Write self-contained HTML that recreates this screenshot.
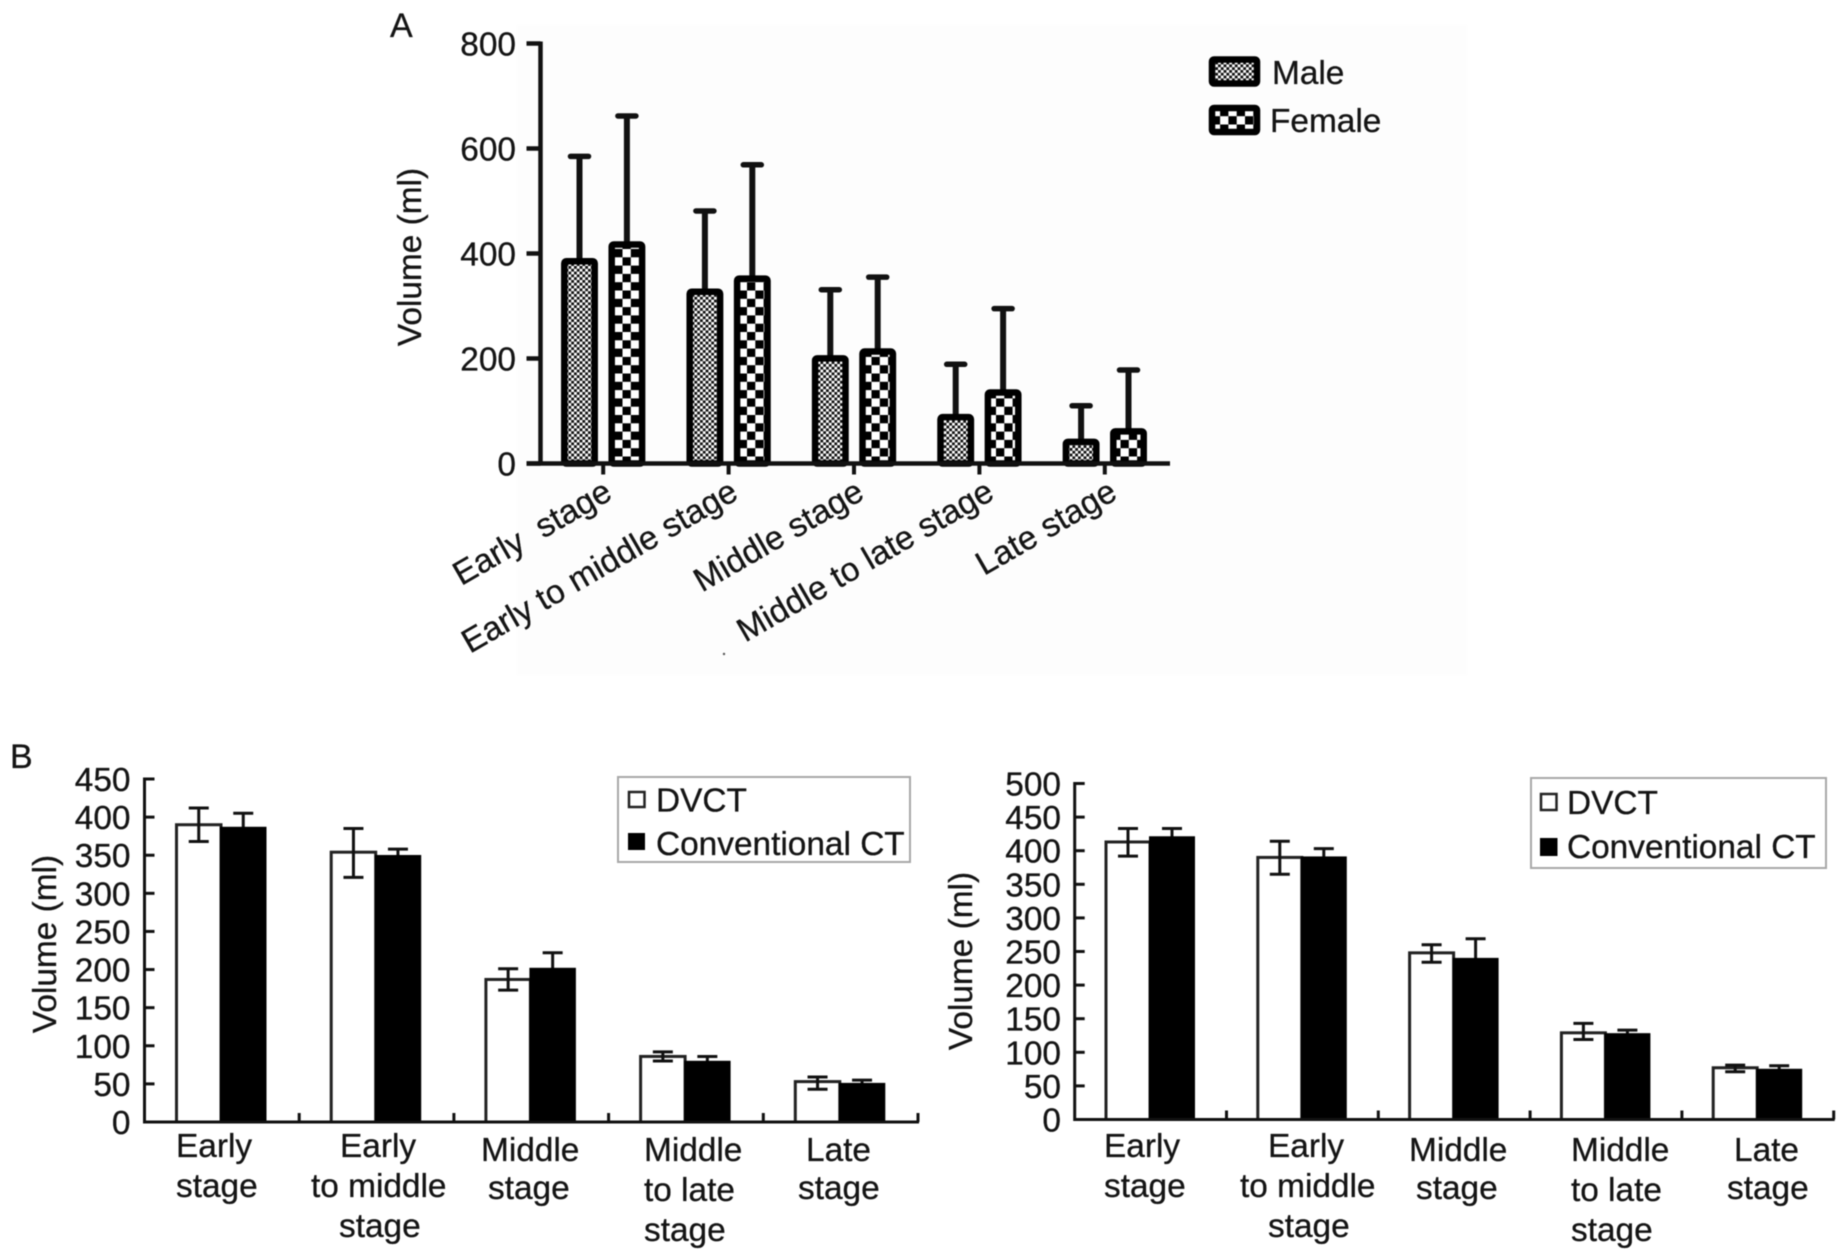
<!DOCTYPE html>
<html lang="en">
<head>
<meta charset="utf-8">
<title>Volume by stage</title>
<style>
html,body{margin:0;padding:0;background:#fff;width:1847px;height:1256px;overflow:hidden}
svg{display:block;filter:blur(0.6px)}
text{font-family:"Liberation Sans",sans-serif;fill:#141414;stroke:#141414;stroke-width:0.3px;font-size:33.4px}
</style>
</head>
<body>
<svg id="figure" xmlns="http://www.w3.org/2000/svg" width="1847" height="1256" viewBox="0 0 1847 1256">
  <defs>
    <pattern id="male-fill" patternUnits="userSpaceOnUse" width="5.6" height="5.6">
      <rect width="5.6" height="5.6" fill="#fff"/>
      <rect width="2.8" height="2.8" fill="#111"/>
      <rect x="2.8" y="2.8" width="2.8" height="2.8" fill="#111"/>
    </pattern>
    <pattern id="female-fill" patternUnits="userSpaceOnUse" width="16.6" height="16.6">
      <rect width="16.6" height="16.6" fill="#fff"/>
      <rect width="8.3" height="8.3" fill="#000"/>
      <rect x="8.3" y="8.3" width="8.3" height="8.3" fill="#000"/>
    </pattern>
  </defs>
  <rect x="517" y="25" width="950" height="650" fill="#fdfdfd"/>
  <circle cx="724" cy="654" r="1.2" fill="#555"/>

  <text x="390" y="37" style="font-size:34px">A</text>
  <text x="10" y="768" style="font-size:34px">B</text>

  <text text-anchor="middle" transform="translate(421,257) rotate(-90)">Volume (ml)</text>
  <text text-anchor="middle" transform="translate(56,944) rotate(-90)">Volume (ml)</text>
  <text text-anchor="middle" transform="translate(972,961) rotate(-90)">Volume (ml)</text>

  <g text-anchor="end">
    <text xml:space="preserve" transform="translate(614,498) rotate(-30)">Early  stage</text>
    <text transform="translate(740,498) rotate(-30)">Early to middle stage</text>
    <text transform="translate(866,498) rotate(-30)">Middle stage</text>
    <text transform="translate(996,498) rotate(-30)">Middle to late stage</text>
    <text transform="translate(1119,498) rotate(-30)">Late stage</text>
  </g>

  <g>
    <rect x="1212" y="59.5" width="45" height="24" rx="2" fill="url(#male-fill)" stroke="#000" stroke-width="6.5"/>
    <text x="1272" y="84">Male</text>
    <rect x="1212" y="108" width="45" height="24" rx="2" fill="url(#female-fill)" stroke="#000" stroke-width="6.5"/>
    <text x="1270" y="132">Female</text>
  </g>

  <g>
    <text x="176" y="1157">Early</text>
    <text x="176" y="1197">stage</text>
    <text x="340" y="1157">Early</text>
    <text x="311" y="1197">to middle</text>
    <text x="339" y="1237">stage</text>
    <text x="481" y="1161">Middle</text>
    <text x="488" y="1199">stage</text>
    <text x="644" y="1161">Middle</text>
    <text x="644" y="1201">to late</text>
    <text x="644" y="1241">stage</text>
    <text x="806" y="1161">Late</text>
    <text x="798" y="1199">stage</text>
  </g>

  <g>
    <text x="1104" y="1157">Early</text>
    <text x="1104" y="1197">stage</text>
    <text x="1268" y="1157">Early</text>
    <text x="1240" y="1197">to middle</text>
    <text x="1268" y="1237">stage</text>
    <text x="1409" y="1161">Middle</text>
    <text x="1416" y="1199">stage</text>
    <text x="1571" y="1161">Middle</text>
    <text x="1571" y="1201">to late</text>
    <text x="1571" y="1241">stage</text>
    <text x="1734" y="1161">Late</text>
    <text x="1727" y="1199">stage</text>
  </g>

  <g>
    <rect x="618" y="777" width="292" height="85" fill="#fff" stroke="#a8a8a8" stroke-width="2"/>
    <rect x="629" y="792" width="15.5" height="15" fill="#fff" stroke="#222" stroke-width="2.5"/>
    <text x="656" y="811.5">DVCT</text>
    <rect x="628" y="833" width="17" height="17" fill="#000"/>
    <text x="656" y="855">Conventional CT</text>
  </g>

  <g>
    <rect x="1531" y="778" width="295" height="90" fill="#fff" stroke="#a8a8a8" stroke-width="2"/>
    <rect x="1541" y="794" width="15.5" height="16" fill="#fff" stroke="#222" stroke-width="2.5"/>
    <text x="1567" y="814">DVCT</text>
    <rect x="1540" y="838" width="17.5" height="18" fill="#000"/>
    <text x="1567" y="858">Conventional CT</text>
  </g>
</svg>
<script>
const categories = ['early', 'early-to-middle', 'middle', 'middle-to-late', 'late'];

const panelATicks = [0, 200, 400, 600, 800];
const maleMeans = [390, 332, 205, 93, 46];
const maleUpper = [585, 481, 331, 189, 110];
const femaleMeans = [422, 357, 218, 140, 66];
const femaleUpper = [662, 569, 355, 295, 178];

const leftTicks = [0, 50, 100, 150, 200, 250, 300, 350, 400, 450];
const leftDvctMeans = [390, 354, 187, 86, 53];
const leftDvctUpper = [412, 385, 201, 92, 59];
const leftDvctLower = [368, 321, 173, 80, 43];
const leftConvMeans = [386, 349, 201, 79, 50];
const leftConvUpper = [405, 358, 222, 86, 55];

const rightTicks = [0, 50, 100, 150, 200, 250, 300, 350, 400, 450, 500];
const rightDvctMeans = [413, 390, 248, 129, 77];
const rightDvctUpper = [433, 414, 260, 143, 81];
const rightDvctLower = [392, 365, 234, 119, 71];
const rightConvMeans = [420, 390, 239, 127, 74];
const rightConvUpper = [433, 403, 269, 133, 80];

const NS = 'http://www.w3.org/2000/svg';
const figure = document.getElementById('figure');

function make(parent, tag, attrs) {
  const el = document.createElementNS(NS, tag);
  for (const key in attrs) el.setAttribute(key, attrs[key]);
  parent.appendChild(el);
  return el;
}

function scaleLinear(d0, d1, r0, r1) {
  return function (v) { return r0 + (v - d0) * (r1 - r0) / (d1 - d0); };
}

function group(name) {
  const g = make(figure, 'g', {});
  
  
  return g;
}

function line(parent, x1, y1, x2, y2, width, name, cap) {
  const el = make(parent, 'line', { x1: x1, y1: y1, x2: x2, y2: y2, stroke: '#111', 'stroke-width': width, 'stroke-linecap': cap || 'butt' });
  
  
  return el;
}

function tickLabels(parent, ticks, y, x) {
  ticks.forEach(function (t) {
    const label = make(parent, 'text', { x: x, y: y(t) + 12, 'text-anchor': 'end' });
    label.textContent = String(t);
    
    
  });
}

/* Panel A */
(function () {
  const g = group('panel-a-chart');
  const axisX = 540.5, axisRight = 1170, step = 125.4;
  const y = scaleLinear(0, 800, 463.5, 43.5);
  const cx = function (i) { return axisX + step * (i + 0.5); };

  function drawSeries(means, upper, offset, fill, name) {
    means.forEach(function (m, i) {
      const x = cx(i) + offset;
      line(g, x, y(m), x, y(upper[i]), 6, 'error-bar-' + name);
      line(g, x - 9, y(upper[i]), x + 9, y(upper[i]), 5.5, 'error-cap-' + name, 'round');
      const bar = make(g, 'rect', { x: x - 15.2, y: y(m) + 2.5, width: 30.4, height: y(0) - y(m) - 2.5, rx: 2, fill: fill, stroke: '#000', 'stroke-width': 6.5 });
      
      
    });
  }
  drawSeries(maleMeans, maleUpper, -23.7, 'url(#male-fill)', 'male');
  drawSeries(femaleMeans, femaleUpper, 23.7, 'url(#female-fill)', 'female');

  line(g, axisX, y(800) - 2, axisX, y(0) + 2, 4.5, 'y-axis-line');
  line(g, axisX - 14, y(0), axisRight, y(0), 4.5, 'x-axis-line');
  panelATicks.forEach(function (t) {
    line(g, axisX - 14, y(t), axisX, y(t), 4.5, 'y-tick');
  });
  categories.forEach(function (c, i) {
    line(g, cx(i), y(0), cx(i), y(0) + 11, 4, 'x-tick');
  });
  tickLabels(g, panelATicks, y, 516);
})();

/* Panel B shared drawing */
function drawPanelB(g, opts) {
  const y = scaleLinear(0, opts.max, opts.y0, opts.yTop);
  const bandStart = function (i) { return opts.axisX + opts.step * i; };
  const w = opts.barWidth, off = opts.barOffset;

  opts.conv.forEach(function (m, i) {
    const x = bandStart(i) + off + w;
    const center = x + w / 2;
    line(g, center, y(m), center, y(opts.convUp[i]), 3, 'error-bar-conventional-ct');
    line(g, center - 10, y(opts.convUp[i]), center + 10, y(opts.convUp[i]), 3, 'error-cap-conventional-ct');
  });
  opts.dvct.forEach(function (m, i) {
    const x = bandStart(i) + off;
    const bar = make(g, 'rect', { x: x, y: y(m), width: w, height: y(0) - y(m), fill: '#fff', stroke: '#222', 'stroke-width': 3 });
    
    
    const center = x + w / 2;
    line(g, center, y(opts.dvctLow[i]), center, y(opts.dvctUp[i]), 3, 'error-bar-dvct');
    line(g, center - 10, y(opts.dvctUp[i]), center + 10, y(opts.dvctUp[i]), 3, 'error-cap-dvct');
    line(g, center - 10, y(opts.dvctLow[i]), center + 10, y(opts.dvctLow[i]), 3, 'error-cap-dvct');
  });
  opts.conv.forEach(function (m, i) {
    const x = bandStart(i) + off + w;
    const bar = make(g, 'rect', { x: x, y: y(m), width: w, height: y(0) - y(m), fill: '#000', stroke: '#000', 'stroke-width': 2 });
    
    
  });

  line(g, opts.axisX, y(opts.max) - 1.5, opts.axisX, y(0) + 1.5, 3, 'y-axis-line');
  line(g, opts.axisX - 1, y(0), bandStart(categories.length) + 1, y(0), 3, 'x-axis-line');
  opts.ticks.forEach(function (t) {
    line(g, opts.axisX, y(t), opts.axisX + 10, y(t), 3, 'y-tick');
  });
  categories.forEach(function (c, i) {
    line(g, bandStart(i + 1), y(0), bandStart(i + 1), y(0) - 9, 3, 'x-tick');
  });
  tickLabels(g, opts.ticks, y, opts.labelX);
}

drawPanelB(group('panel-b-left-chart'), {
  axisX: 144.5, step: 154.7, y0: 1122, yTop: 779, max: 450,
  barOffset: 32, barWidth: 44.5, labelX: 130.5, ticks: leftTicks,
  dvct: leftDvctMeans, dvctUp: leftDvctUpper, dvctLow: leftDvctLower,
  conv: leftConvMeans, convUp: leftConvUpper
});

drawPanelB(group('panel-b-right-chart'), {
  axisX: 1074.7, step: 151.8, y0: 1119.5, yTop: 783.5, max: 500,
  barOffset: 31.3, barWidth: 44, labelX: 1061, ticks: rightTicks,
  dvct: rightDvctMeans, dvctUp: rightDvctUpper, dvctLow: rightDvctLower,
  conv: rightConvMeans, convUp: rightConvUpper
});
</script>
</body>
</html>
